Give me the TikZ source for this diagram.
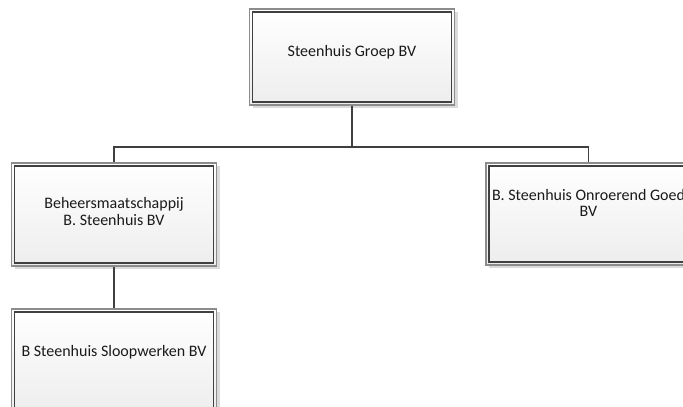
\documentclass[tikz,border=0pt]{standalone}
\usepackage{fontspec}
\setmainfont{Carlito}
\usetikzlibrary{shadows}
\definecolor{outerc}{HTML}{8C8C8C}
\definecolor{innerc}{HTML}{404040}
\definecolor{connc}{HTML}{3F3F3F}
\definecolor{txtc}{HTML}{1A1A1A}
\tikzset{
  orgbox/.style={rectangle, minimum width=205pt, minimum height=#1, inner sep=0pt,
    draw=outerc, line width=1.2pt, top color=white, bottom color=black!7,
    general shadow={fill=black!14, shadow xshift=3pt, shadow yshift=-3pt},
    path picture={\draw[innerc, line width=1.1pt]
      ([shift={(3pt,-3pt)}]path picture bounding box.north west) rectangle
      ([shift={(-3pt,3pt)}]path picture bounding box.south east);}},
  orgbox/.default=103pt,
  boxtext/.style={anchor=base, align=center, text=txtc, inner sep=0pt,
    font=\fontsize{16}{16.7}\selectfont},
  conn/.style={draw=connc, line width=1.8pt}
}
\begin{document}
\begin{tikzpicture}[x=1pt,y=1pt]
\useasboundingbox (0,0) rectangle (683,-407);
\clip (0,0) rectangle (683,-407);
\fill[white] (0,0) rectangle (683,-407);
% boxes
\node[orgbox=96pt] (top) at (352,-57) {};
\node[orgbox] (left) at (114,-214.5) {};
\node[orgbox=102pt] (right) at (588.5,-214) {};
\node[orgbox] (bot) at (114,-360.5) {};
% texts
\node[boxtext] (ttop) at (352,-56.7) {Steenhuis Groep BV};
\node[boxtext] (tleft) at (114,-225.2) {Beheersmaatschappij\\B. Steenhuis BV};
\node[boxtext] (tright) at (588.5,-216.9) {B. Steenhuis Onroerend Goed\\BV};
\node[boxtext] (tbot) at (114,-356) {B Steenhuis Sloopwerken BV};
% connectors
\coordinate (bus) at (352,-146.7);
\draw[conn] (top.south) -- (bus);
\draw[conn] (left.north) |- (bus) -| (right.north);
\draw[conn] (left.south) -- (bot.north);
\end{tikzpicture}
\end{document}
